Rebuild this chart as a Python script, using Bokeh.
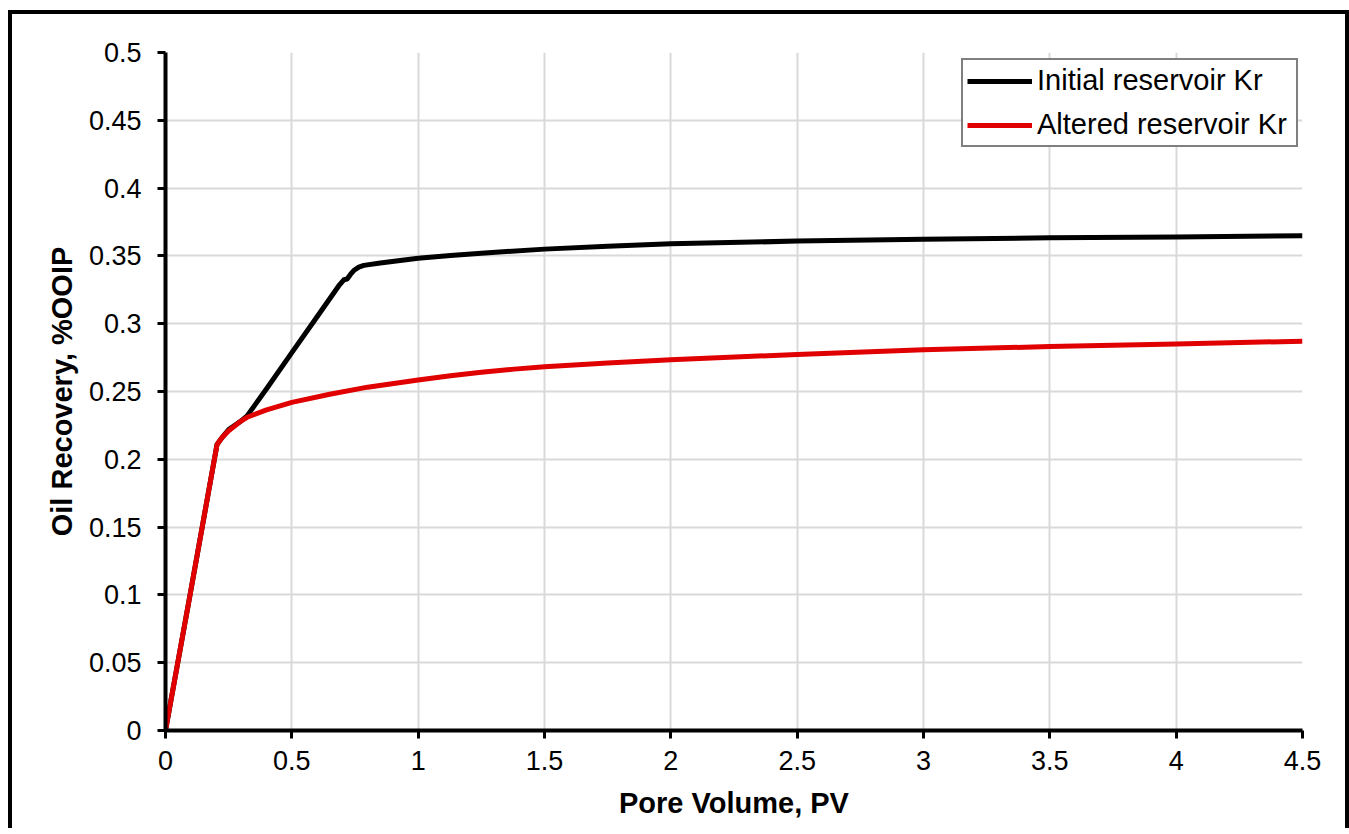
from bokeh.plotting import figure
from bokeh.models import FixedTicker, Legend, LegendItem, Range1d
from bokeh.embed import file_html
from bokeh.resources import INLINE

# ---- data ----
series_names = ["Initial reservoir Kr", "Altered reservoir Kr"]

pv_initial = [0, 0.1, 0.204, 0.224, 0.25, 0.297, 0.323, 0.4, 0.5, 0.6, 0.686,
              0.706, 0.719, 0.732, 0.745, 0.765, 0.785, 0.85, 1.0, 1.128, 1.25, 1.5,
              1.75, 2.0, 2.5, 3.0, 3.5, 4.0, 4.5]
rec_initial = [0, 0.103, 0.211, 0.216, 0.222, 0.228, 0.232, 0.252, 0.2787, 0.3051, 0.328,
               0.3324, 0.333, 0.3363, 0.3392, 0.3417, 0.343, 0.3448, 0.3483, 0.3503, 0.3520, 0.3550,
               0.3572, 0.3589, 0.3609, 0.3623, 0.3633, 0.364, 0.3648]

pv_altered = [0, 0.1, 0.204, 0.224, 0.25, 0.297, 0.323, 0.4, 0.5, 0.65, 0.8,
              1.0, 1.128, 1.25, 1.38, 1.5, 1.75, 2.0, 2.5, 3.0, 3.5, 4.0, 4.5]
rec_altered = [0, 0.103, 0.211, 0.216, 0.221, 0.228, 0.231, 0.2365, 0.242, 0.248, 0.2532,
               0.2585, 0.2616, 0.2642, 0.2665, 0.2683, 0.2711, 0.2734, 0.2773, 0.2807, 0.2832, 0.2851, 0.2871]

x_ticks = [0, 0.5, 1, 1.5, 2, 2.5, 3, 3.5, 4, 4.5]
x_tick_labels = ["0", "0.5", "1", "1.5", "2", "2.5", "3", "3.5", "4", "4.5"]
y_ticks = [0, 0.05, 0.1, 0.15, 0.2, 0.25, 0.3, 0.35, 0.4, 0.45, 0.5]
y_tick_labels = ["0", "0.05", "0.1", "0.15", "0.2", "0.25", "0.3", "0.35", "0.4", "0.45", "0.5"]

x_title = "Pore Volume, PV"
y_title = "Oil Recovery, %OOIP"

FONT = "Liberation Sans"

p = figure(width=1341, height=818,
           x_range=Range1d(0, 4.5), y_range=Range1d(0, 0.5),
           output_backend="svg", toolbar_location=None,
           min_border_left=153, min_border_right=51,
           min_border_top=38, min_border_bottom=102)
p.styles = {"border-top": "4px solid black", "border-left": "4px solid black",
            "border-right": "4px solid black", "margin-top": "10px", "margin-left": "8px",
            "max-width": "none", "overflow": "hidden"}

p.outline_line_color = None
p.background_fill_color = "white"
p.border_fill_color = "white"

for ax, ticks, labels in ((p.xaxis[0], x_ticks, x_tick_labels), (p.yaxis[0], y_ticks, y_tick_labels)):
    ax.ticker = FixedTicker(ticks=ticks)
    ax.major_label_overrides = {t: l for t, l in zip(ticks, labels)}
    ax.axis_line_color = "black"
    ax.axis_line_width = 4
    ax.major_tick_line_color = "black"
    ax.major_tick_line_width = 3
    ax.major_tick_out = 8
    ax.major_tick_in = 0
    ax.minor_tick_line_color = None
    ax.major_label_text_font = FONT
    ax.major_label_text_font_size = "27px"
    ax.major_label_text_color = "black"
    ax.axis_label_text_font = FONT
    ax.axis_label_text_font_size = "29px"
    ax.axis_label_text_font_style = "bold"
    ax.axis_label_text_color = "black"

p.xaxis.axis_label = x_title
p.yaxis.axis_label = y_title
p.xaxis.major_label_standoff = 12
p.yaxis.major_label_standoff = 16
p.xaxis.axis_label_standoff = 14
p.yaxis.axis_label_standoff = 8

for g in (p.xgrid[0], p.ygrid[0]):
    g.grid_line_color = "#d9d9d9"
    g.grid_line_width = 2
p.xgrid.ticker = FixedTicker(ticks=x_ticks)
p.ygrid.ticker = FixedTicker(ticks=y_ticks)

r1 = p.line(pv_initial, rec_initial, line_color="black", line_width=5, line_join="round")
r2 = p.line(pv_altered, rec_altered, line_color="#e00000", line_width=5, line_join="round")

legend = Legend(items=[LegendItem(label=series_names[0], renderers=[r1]),
                       LegendItem(label=series_names[1], renderers=[r2])],
                location=(796, 583),
                padding=4, spacing=11, margin=0,
                glyph_width=65, glyph_height=32, label_height=32, label_width=255,
                label_standoff=5,
                label_text_font=FONT, label_text_font_size="29px",
                label_text_color="black",
                border_line_color="black", border_line_width=2,
                background_fill_color="white", background_fill_alpha=1)
p.add_layout(legend)

open("out.html", "w").write(file_html(p, INLINE))
